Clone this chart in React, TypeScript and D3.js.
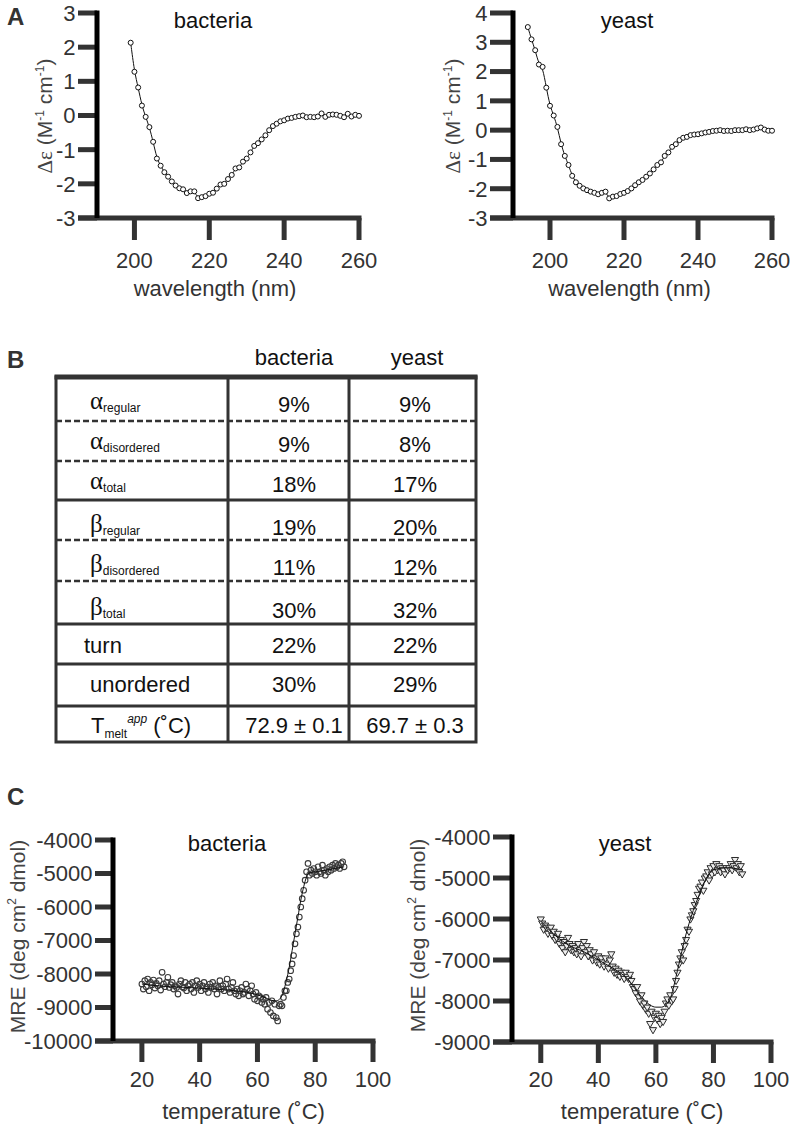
import React from 'react';
import * as d3 from 'd3';

// ---- Panel A: CD spectra (Δε vs wavelength, 1 nm steps) ----
const cdBactStart = 199;
const cdBact = [2.13, 1.28, 0.82, 0.29, -0.04, -0.34, -0.77, -1.26, -1.47, -1.66,
  -1.79, -1.93, -2.05, -2.13, -2.16, -2.27, -2.22, -2.22, -2.42, -2.39,
  -2.36, -2.29, -2.26, -2.14, -2.02, -2.0, -1.86, -1.74, -1.55, -1.52,
  -1.35, -1.26, -1.08, -0.89, -0.81, -0.7, -0.58, -0.43, -0.31, -0.24,
  -0.17, -0.14, -0.09, -0.07, -0.04, -0.02, 0.0, -0.05, -0.04, -0.05,
  -0.03, 0.06, -0.04, 0.02, 0.03, 0.02, -0.01, -0.05, 0.05, -0.03,
  0.02, -0.01];

const cdYeastStart = 194;
const cdYeast = [3.52, 3.1, 2.73, 2.24, 2.16, 1.45, 0.83, 0.5, 0.11, -0.48,
  -0.88, -1.19, -1.56, -1.78, -1.9, -1.99, -2.05, -2.1, -2.14, -2.19,
  -2.14, -2.1, -2.33, -2.27, -2.25, -2.18, -2.14, -2.08, -1.99, -1.88,
  -1.78, -1.7, -1.59, -1.48, -1.34, -1.19, -1.1, -0.88, -0.76, -0.57,
  -0.48, -0.34, -0.26, -0.23, -0.17, -0.15, -0.14, -0.11, -0.08, -0.06,
  -0.03, -0.02, 0.0, -0.03, -0.02, -0.03, 0.0, 0.0, 0.0, 0.03,
  0.0, 0.02, 0.06, 0.09, 0.02, -0.02, -0.02];

const cdXTicks = [200, 220, 240, 260];
const cdBactYTicks = [-3, -2, -1, 0, 1, 2, 3];
const cdYeastYTicks = [-3, -2, -1, 0, 1, 2, 3, 4];

// ---- Panel B: secondary structure table ----
const rowSymbols = ['α', 'α', 'α', 'β', 'β', 'β', '', '', 'T'];
const rowSubs = ['regular', 'disordered', 'total', 'regular', 'disordered', 'total', '', '', 'melt'];
const rowPlain = ['', '', '', '', '', '', 'turn', 'unordered', ''];
const bacteriaCol = ['9%', '9%', '18%', '19%', '11%', '30%', '22%', '30%', '72.9 ± 0.1'];
const yeastCol = ['9%', '8%', '17%', '20%', '12%', '32%', '22%', '29%', '69.7 ± 0.3'];
const rowRule = ['dash', 'dash', 'solid', 'dash', 'dash', 'solid', 'solid', 'solid'];

// ---- Panel C: thermal melts (MRE vs temperature, 0.5 °C steps) ----
const meltStart = 20;
const meltStep = 0.5;
const meltBact = [
  -8300, -8450, -8200, -8380, -8150, -8500, -8250, -8320, -8180, -8420,
  -8280, -8350, -8200, -8480, -7950, -8300, -8380, -8250, -8100, -8400,
  -8320, -8250, -8450, -8350, -8400, -8600, -8300, -8200, -8380, -8420,
  -8250, -8500, -8350, -8300, -8450, -8250, -8550, -8350, -8200, -8400,
  -8300, -8500, -8350, -8250, -8450, -8380, -8550, -8300, -8400, -8250,
  -8450, -8350, -8600, -8400, -8200, -8450, -8350, -8500, -8300, -8150,
  -8450, -8550, -8400, -8250, -8500, -8600, -8450, -8650, -8500, -8400,
  -8600, -8550, -8300, -8450, -8650, -8500, -8350, -8600, -8750, -8550,
  -8800, -8650, -8700, -8850, -8750, -8900, -8700, -9050, -8850, -9150,
  -8800, -9250, -8900, -9300, -9400, -8950, -8900, -8950, -8700, -8500,
  -8500, -8250, -8150, -7900, -7700, -7450, -7100, -6800, -6600, -6300,
  -6000, -5750, -5500, -5200, -4950, -4700, -5050, -4900, -5000, -4850,
  -4950, -5050, -4800, -4950, -5000, -4750, -4900, -5050, -4850, -4950,
  -4800, -4900, -4750, -4850, -4700, -4800, -4750, -4850, -4700, -4650,
  -4800];
const meltYeast = [
  -6000, -6100, -6250, -6150, -6200, -6350, -6250, -6200, -6400, -6300,
  -6500, -6450, -6350, -6600, -6500, -6700, -6550, -6800, -6650, -6450,
  -6600, -6750, -6650, -6800, -6700, -6850, -6600, -6750, -6900, -6700,
  -6550, -6800, -6650, -6900, -6750, -6850, -7000, -6800, -6950, -7050,
  -6900, -7100, -6950, -7050, -7150, -6950, -7100, -7200, -7000, -6850,
  -7150, -7300, -7200, -7350, -7250, -7400, -7300, -7350, -7450, -7300,
  -7400, -7450, -7350, -7500, -7650, -7700, -7800, -7650, -7900, -8000,
  -7850, -8100, -8050, -8200, -8150, -8300, -8550, -8250, -8700, -8400,
  -8300, -8450, -8350, -8550, -8400, -8500, -8250, -8050, -7950, -8100,
  -7850, -8000, -7950, -7700, -7500, -7300, -7100, -6950, -6800, -7000,
  -6650, -6500, -6250, -6300, -6000, -5900, -5800, -5650, -5550, -5400,
  -5250, -5200, -5100, -5300, -5000, -4950, -4850, -5050, -4750, -4900,
  -4700, -4850, -4650, -4800, -4700, -4850, -4750, -4800, -4900, -4750,
  -4800, -4750, -4650, -4800, -4700, -4550, -4750, -4650, -4850, -4700,
  -4900];

const bactFitT = [20, 25, 30, 35, 40, 45, 50, 55, 60, 63, 65, 66.5, 68, 69, 70, 71, 72, 73, 74, 75, 76, 77, 78, 80, 85, 90];
const bactFitV = [-8300, -8350, -8380, -8400, -8420, -8450, -8480, -8530, -8620, -8720, -8790, -8800, -8720, -8520, -8200, -7800, -7300, -6800, -6300, -5800, -5400, -5100, -4980, -4950, -4880, -4800];
const yeastFitT = [20, 25, 30, 35, 40, 45, 50, 55, 58, 60, 62, 64, 65, 66, 68, 70, 72, 74, 76, 78, 80, 85, 90];
const yeastFitV = [-6050, -6400, -6650, -6800, -7000, -7200, -7450, -7900, -8100, -8150, -8150, -8050, -7950, -7700, -7100, -6500, -6000, -5600, -5250, -4950, -4800, -4750, -4800];

const meltXTicks = [20, 40, 60, 80, 100];
const meltBactYTicks = [-10000, -9000, -8000, -7000, -6000, -5000, -4000];
const meltYeastYTicks = [-9000, -8000, -7000, -6000, -5000, -4000];

const INK = '#333';
const SANS = "'Liberation Sans', Arial, sans-serif";
const SERIF = "'Liberation Serif', 'Times New Roman', serif";

type Lin = d3.ScaleLinear<number, number>;

const Axes: React.FC<{ x: Lin; y: Lin; xTicks: number[]; yTicks: number[]; yTickLen: number; xTickLen: number; xLabelY: number }> =
  ({ x, y, xTicks, yTicks, yTickLen, xTickLen, xLabelY }) => {
    const x0 = x.range()[0];
    const y0 = y.range()[0];
    const yTop = y(d3.max(yTicks) as number);
    const xEnd = x(d3.max(xTicks) as number);
    return (
      <g>
        <rect x={x0 - yTickLen} y={y0 - 2.5} width={xEnd + 2.5 - (x0 - yTickLen)} height={5} fill={INK} />
        {xTicks.map(t => (
          <rect key={'xt' + t} x={x(t) - 2.5} y={y0} width={5} height={xTickLen} fill={INK} />
        ))}
        {yTicks.map(t => (
          <rect key={'yt' + t} x={x0 - yTickLen} y={y(t) - 2.5} width={yTickLen} height={5} fill={INK} />
        ))}
        <rect x={x0 - 2.5} y={yTop - 2.5} width={5} height={y0 - yTop + 2.5} fill="#000" />
        {yTicks.map(t => (
          <text key={'yl' + t} x={x0 - yTickLen - 2.5} y={y(t)} dy="0.36em" textAnchor="end" fontSize={22} fill={INK}>{t}</text>
        ))}
        {xTicks.map(t => (
          <text key={'xl' + t} x={x(t)} y={xLabelY} textAnchor="middle" fontSize={22} fill={INK}>{t}</text>
        ))}
      </g>
    );
  };

const CdPanel: React.FC<{ data: number[]; start: number; x: Lin; y: Lin; yTicks: number[]; yTickLen: number; title: string; titleX: number; labelX: number }> =
  ({ data, start, x, y, yTicks, yTickLen, title, titleX, labelX }) => {
    const pts: [number, number][] = data.map((v, i) => [x(start + i), y(v)]);
    const line = d3.line().curve(d3.curveBasis)(pts) || '';
    const midX = (x.range()[0] + x.range()[1]) / 2;
    return (
      <g>
        <Axes x={x} y={y} xTicks={cdXTicks} yTicks={yTicks} yTickLen={yTickLen} xTickLen={22} xLabelY={268} />
        <path d={line} fill="none" stroke="#111" strokeWidth={1} />
        {pts.map((p, i) => (
          <circle key={i} cx={p[0]} cy={p[1]} r={2.5} fill="#fff" stroke="#111" strokeWidth={1} />
        ))}
        <text x={titleX} y={28} textAnchor="middle" fontSize={22} fill="#111">{title}</text>
        <text x={midX - 13} y={296} textAnchor="middle" fontSize={22} fill={INK}>wavelength (nm)</text>
        <text transform={`translate(${labelX},116) rotate(-90)`} textAnchor="middle" fontSize={21} fill="#444">
          <tspan dy="0.35em" fontFamily={SERIF}>Δε</tspan>
          <tspan> (M</tspan>
          <tspan fontSize={12} dy={-8}>-1</tspan>
          <tspan dy={8}> cm</tspan>
          <tspan fontSize={12} dy={-8}>-1</tspan>
          <tspan dy={8}>)</tspan>
        </text>
      </g>
    );
  };

const MeltPanel: React.FC<{ data: number[]; fitT: number[]; fitV: number[]; x: Lin; y: Lin; yTicks: number[]; yTickLen: number; title: string; titleX: number; labelX: number; marker: 'circle' | 'tri' }> =
  ({ data, fitT, fitV, x, y, yTicks, yTickLen, title, titleX, labelX, marker }) => {
    const pts: [number, number][] = data.map((v, i) => [x(meltStart + i * meltStep), y(v)]);
    const fit = d3.line().curve(d3.curveMonotoneX)(fitT.map((t, i) => [x(t), y(fitV[i])] as [number, number])) || '';
    const tri = d3.symbol().type(d3.symbolTriangle).size(22)() || '';
    const midY = (y.range()[0] + y.range()[1]) / 2;
    return (
      <g>
        <Axes x={x} y={y} xTicks={meltXTicks} yTicks={yTicks} yTickLen={yTickLen} xTickLen={21} xLabelY={1087} />
        {pts.map((p, i) => marker === 'circle'
          ? <circle key={i} cx={p[0]} cy={p[1]} r={2.8} fill="none" stroke="#3a3a3a" strokeWidth={1.1} />
          : <path key={i} d={tri} transform={`translate(${p[0]},${p[1]}) rotate(180)`} fill="#eee" stroke="#2a2a2a" strokeWidth={1} />
        )}
        <path d={fit} fill="none" stroke="#111" strokeWidth={1} />
        <text x={titleX} y={851} textAnchor="middle" fontSize={22} fill="#111">{title}</text>
        <text x={x(50) + 15} y={1119} textAnchor="middle" fontSize={22} fill={INK}>temperature (˚C)</text>
        <text transform={`translate(${labelX},${midY - 4}) rotate(-90)`} textAnchor="middle" fontSize={21} fill="#444">
          <tspan dy="0.35em">MRE (deg cm</tspan>
          <tspan fontSize={12} dy={-9}>2</tspan>
          <tspan dy={9}> dmol)</tspan>
        </text>
      </g>
    );
  };

const StructureTable: React.FC = () => {
  const left = 56, right = 476;
  const cols = [228, 349];
  const rowY = [377, 421, 461, 500, 540, 581, 624, 664, 706, 742];
  const baselines = [412, 452, 492, 535, 575, 618, 653, 692, 733];
  return (
    <g fill="#111">
      <text x={294} y={365} textAnchor="middle" fontSize={22}>bacteria</text>
      <text x={417} y={365} textAnchor="middle" fontSize={22}>yeast</text>
      {rowRule.map((r, i) => (
        <line key={i} x1={left} x2={right} y1={rowY[i + 1]} y2={rowY[i + 1]} stroke={INK}
          strokeWidth={r === 'dash' ? 2.5 : 3} strokeDasharray={r === 'dash' ? '6 3' : undefined} />
      ))}
      {cols.map(c => <line key={c} x1={c} x2={c} y1={rowY[0]} y2={rowY[rowY.length - 1]} stroke={INK} strokeWidth={3} />)}
      <rect x={left} y={rowY[0]} width={right - left} height={rowY[rowY.length - 1] - rowY[0]} fill="none" stroke={INK} strokeWidth={3} />
      <line x1={left - 1.5} x2={right + 1.5} y1={rowY[0]} y2={rowY[0]} stroke={INK} strokeWidth={5} />
      {baselines.map((b, i) => (
        <g key={'r' + i}>
          {rowPlain[i] && <text x={rowPlain[i] === 'turn' ? 84 : 90} y={b} fontSize={22}>{rowPlain[i]}</text>}
          {rowSymbols[i] && rowSymbols[i] !== 'T' && (
            <text x={90} y={b - 3}>
              <tspan fontFamily={SERIF} fontSize={25}>{rowSymbols[i]}</tspan>
              <tspan fontSize={12} dy={3}>{rowSubs[i]}</tspan>
            </text>
          )}
          {rowSymbols[i] === 'T' && (
            <text x={91} y={b} fontSize={22}>
              <tspan>T</tspan>
              <tspan fontSize={12} dy={5}>{rowSubs[i]}</tspan>
              <tspan fontSize={12} dy={-15} fontStyle="italic">app</tspan>
              <tspan dy={10}>  (˚C)</tspan>
            </text>
          )}
          <text x={294} y={b} textAnchor="middle" fontSize={22}>{bacteriaCol[i]}</text>
          <text x={415} y={b} textAnchor="middle" fontSize={22}>{yeastCol[i]}</text>
        </g>
      ))}
    </g>
  );
};

export default function App() {
  const xA1 = d3.scaleLinear().domain([190, 260]).range([97, 359]);
  const yA1 = d3.scaleLinear().domain([-3, 3]).range([218, 13]);
  const xA2 = d3.scaleLinear().domain([190, 260]).range([513, 772]);
  const yA2 = d3.scaleLinear().domain([-3, 4]).range([218, 13]);
  const xC1 = d3.scaleLinear().domain([10, 100]).range([113, 373]);
  const yC1 = d3.scaleLinear().domain([-10000, -4000]).range([1041, 840]);
  const xC2 = d3.scaleLinear().domain([10, 100]).range([512, 771]);
  const yC2 = d3.scaleLinear().domain([-9000, -4000]).range([1042, 837]);

  return (
    <svg width={794} height={1135} style={{ position: 'absolute', left: 0, top: 0, background: '#fff' }} fontFamily={SANS}>
      <rect width={794} height={1135} fill="#fff" />
      <text x={7} y={25} fontSize={24} fontWeight="bold" fill={INK}>A</text>
      <text x={7} y={368} fontSize={24} fontWeight="bold" fill={INK}>B</text>
      <text x={7} y={805} fontSize={24} fontWeight="bold" fill={INK}>C</text>

      <CdPanel data={cdBact} start={cdBactStart} x={xA1} y={yA1} yTicks={cdBactYTicks} yTickLen={19} title="bacteria" titleX={213} labelX={45} />
      <CdPanel data={cdYeast} start={cdYeastStart} x={xA2} y={yA2} yTicks={cdYeastYTicks} yTickLen={23} title="yeast" titleX={627} labelX={453} />

      <StructureTable />

      <MeltPanel data={meltBact} fitT={bactFitT} fitV={bactFitV} x={xC1} y={yC1} yTicks={meltBactYTicks} yTickLen={18} title="bacteria" titleX={227} labelX={18} marker="circle" />
      <MeltPanel data={meltYeast} fitT={yeastFitT} fitV={yeastFitV} x={xC2} y={yC2} yTicks={meltYeastYTicks} yTickLen={19} title="yeast" titleX={625} labelX={418} marker="tri" />
    </svg>
  );
}
